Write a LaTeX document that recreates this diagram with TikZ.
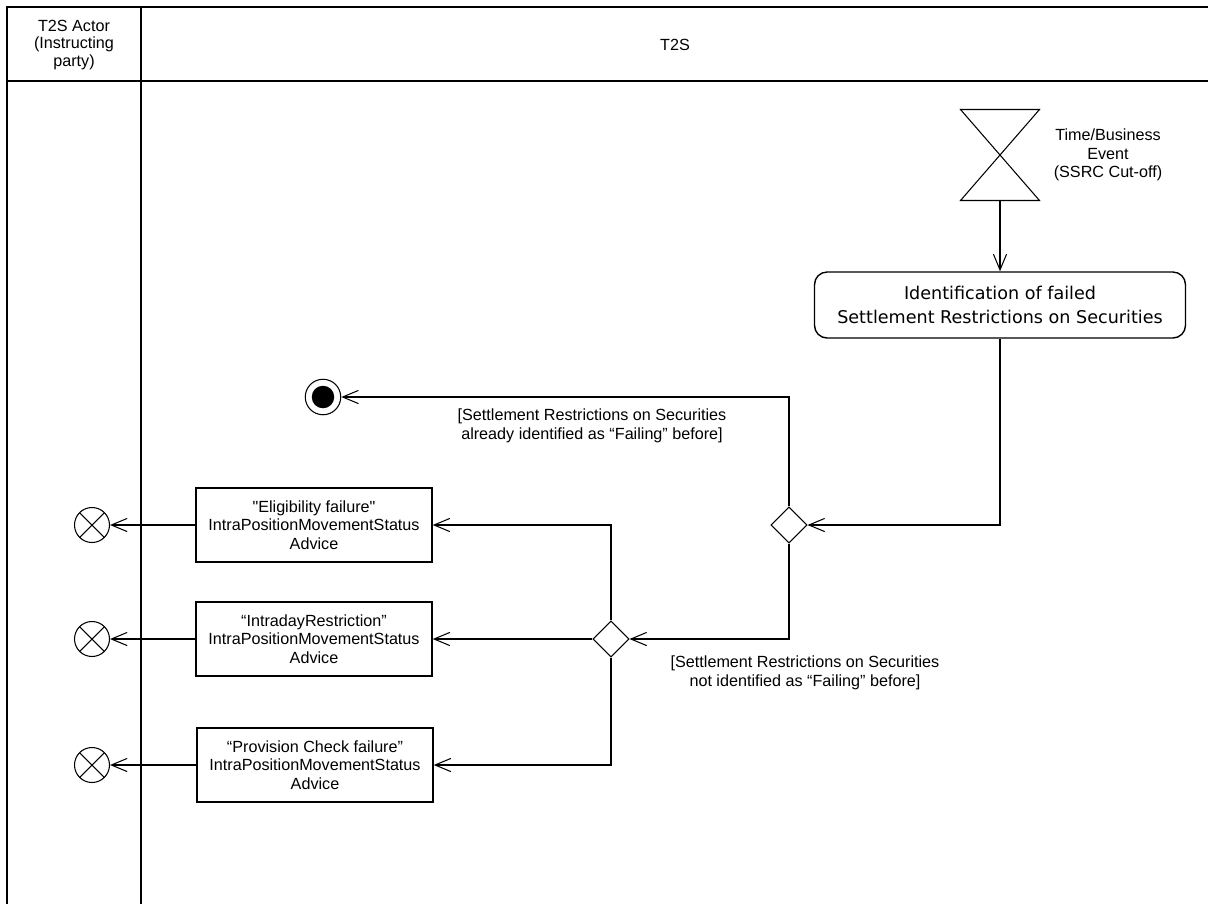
\documentclass[tikz,border=0pt]{standalone}
\usepackage{fontspec}
\setmainfont{Liberation Sans}[Ligatures=TeXOff]
\newfontfamily\activityfont{DejaVu Sans}
\usetikzlibrary{shapes, shapes.geometric, arrows, arrows.meta}

\begin{document}
\begin{tikzpicture}[
    x=0.02cm, y=-0.02cm,
    line width=0.6pt,
    >={Straight Barb[length=9pt, width=7.5pt]},
    laneLine/.style={line width=1.1pt},
    msgBox/.style={draw, line width=0.8pt, minimum width=4.72cm, minimum height=1.48cm, align=center},
    decision/.style={draw, diamond, aspect=1, minimum size=0.72cm, inner sep=0pt},
    flowEnd/.style={draw, circle, minimum size=0.7cm, inner sep=0pt,
        path picture={\draw (path picture bounding box.north west) -- (path picture bounding box.south east)
            (path picture bounding box.north east) -- (path picture bounding box.south west);}},
    activityEnd/.style={draw, circle, minimum size=0.71cm, inner sep=0pt},
    every node/.style={
        text centered,
        font=\fontsize{9.2}{10.6}\selectfont
        }
        ]
    \useasboundingbox (0,0) rectangle (1208,904);

    % swimlanes
    \draw[laneLine] (7,904) -- (7,7) -- (1208,7);
    \draw[laneLine] (141,7) -- (141,904);
    \draw[laneLine] (7,81) -- (1208,81);
    \node[align=center, font=\fontsize{9.2}{10.2}\selectfont] (actor) at (74,45) {T2S Actor\\(Instructing\\party)};
    \node (t2s) at (675,45) {T2S};

    % time event
    \node[minimum width=1.56cm, minimum height=1.8cm, inner sep=0pt] (event) at (1000,155) {};
    \draw (event.north west) -- (event.north east) -- (event.south west) -- (event.south east) -- cycle;
    \node[align=center] (eventLbl) at (1108,155) {Time/Business\\Event\\(SSRC Cut-off)};

    \node[draw, rounded corners=0.25cm, line width=0.8pt, minimum width=7.42cm, minimum height=1.32cm, align=center,
        font=\activityfont\fontsize{10}{14}\selectfont] (ident) at (1000,305)
        {Identification of failed\\Settlement Restrictions on Securities};

    \node[decision] (dec1) at (789,525) {};
    \node[decision] (dec2) at (611,639) {};

    \node[activityEnd] (final) at (323,397) {};
    \fill (final.center) circle (0.225cm);

    \node[msgBox] (msg1) at (314,525) {"Eligibility failure"\\IntraPositionMovementStatus\\Advice};
    \node[msgBox] (msg2) at (314,639) {“IntradayRestriction”\\IntraPositionMovementStatus\\Advice};
    \node[msgBox] (msg3) at (315,765) {“Provision Check failure”\\IntraPositionMovementStatus\\Advice};

    \node[flowEnd] (end1) at (92,525) {};
    \node[flowEnd] (end2) at (92,639) {};
    \node[flowEnd] (end3) at (92,765) {};

    \node[align=center] (guard1) at (592,426) {[Settlement Restrictions on Securities\\already identified as “Failing” before]};
    \node[align=center] (guard2) at (805,673) {[Settlement Restrictions on Securities\\not identified as “Failing” before]};

    \draw[->] (event.south) -- (ident.north);
    \draw[->] (ident.south) |- (dec1.east);
    \draw[->] (dec1.north) |- (final.east);
    \draw[->] (dec1.south) |- (dec2.east);
    \draw[->] (dec2.north) |- (msg1.east);
    \draw[->] (dec2.west) -- (msg2.east);
    \draw[->] (dec2.south) |- (msg3.east);
    \draw[->] (msg1.west) -- (end1.east);
    \draw[->] (msg2.west) -- (end2.east);
    \draw[->] (msg3.west) -- (end3.east);
\end{tikzpicture}
\end{document}
